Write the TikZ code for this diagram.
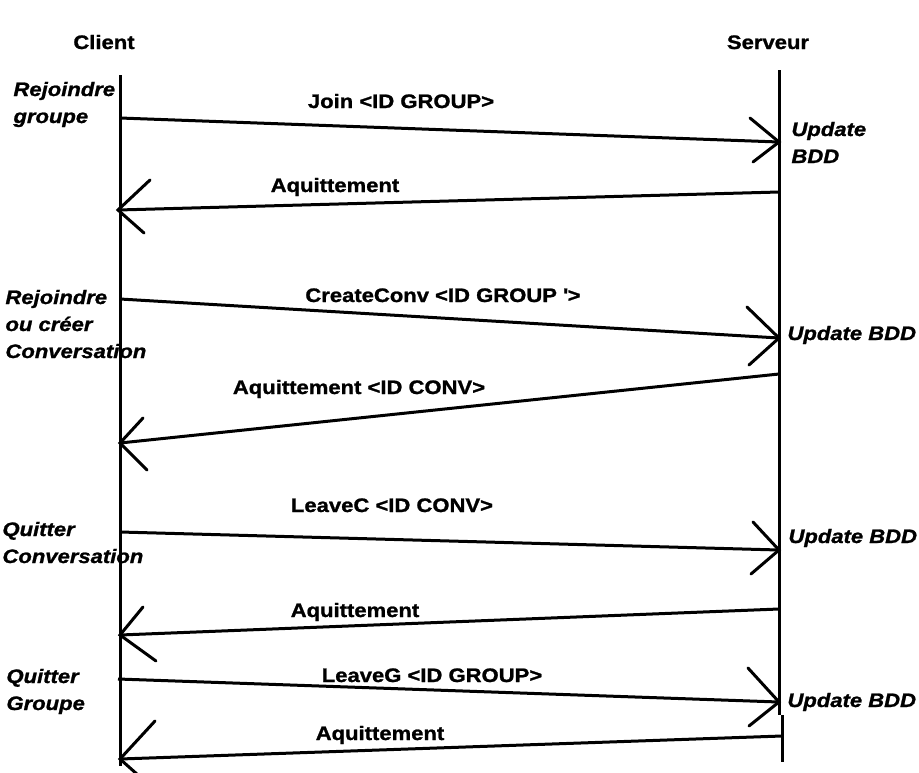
\documentclass[tikz,border=0pt]{standalone}
\usepackage{fontspec}
\setmainfont{Liberation Sans}[FakeStretch=1.13,FakeBold=1.2]
\begin{document}
\begin{tikzpicture}[x=1pt,y=-1pt,line width=3pt,
  msg/.style={font=\bfseries\fontsize{19.5}{23}\selectfont, anchor=base, inner sep=0pt},
  act/.style={font=\bfseries\itshape\fontsize{19.5}{27}\selectfont, anchor=base west, align=left, inner sep=0pt},
  lifeline/.style={line width=3pt},
  wire/.style={line width=3pt},
  barb/.style={line width=3pt, line cap=round}]
\useasboundingbox (0,0) rectangle (919,772);
% headers
\node[msg] (client) at (104,49) {Client};
\node[msg] (serveur) at (768,49) {Serveur};
% lifelines
\coordinate (ctop) at (120,75);
\coordinate (cbot) at (120,766);
\coordinate (stop) at (779,70);
\coordinate (smid) at (779,715);
\coordinate (smid2) at (782,715);
\coordinate (sbot) at (782,762);
\draw[lifeline] (ctop) -- (cbot);
\draw[lifeline] (stop) -- (smid);
\draw[lifeline] (smid2) -- (sbot);
% message 1
\coordinate (m1s) at (120,118); \coordinate (m1e) at (779,142);
\coordinate (b1a) at (750,118); \coordinate (b1b) at (753,162);
\draw[wire] (m1s) -- (m1e); \draw[barb] (b1a) -- (m1e) -- (b1b);
\node[msg] (l1) at (401,108) {Join <ID GROUP>};
% message 2
\coordinate (m2s) at (779,192); \coordinate (m2e) at (118,210);
\coordinate (b2a) at (150,180); \coordinate (b2b) at (144,233);
\draw[wire] (m2s) -- (m2e); \draw[barb] (b2a) -- (m2e) -- (b2b);
\node[msg] (l2) at (335,192) {Aquittement};
% message 3
\coordinate (m3s) at (120,299); \coordinate (m3e) at (779,338);
\coordinate (b3a) at (747,307); \coordinate (b3b) at (749,365);
\draw[wire] (m3s) -- (m3e); \draw[barb] (b3a) -- (m3e) -- (b3b);
\node[msg] (l3) at (443,302) {CreateConv <ID GROUP \textquotesingle>};
% message 4
\coordinate (m4s) at (779,374); \coordinate (m4e) at (120,443);
\coordinate (b4a) at (143,418); \coordinate (b4b) at (147,470);
\draw[wire] (m4s) -- (m4e); \draw[barb] (b4a) -- (m4e) -- (b4b);
\node[msg] (l4) at (359,394) {Aquittement <ID CONV>};
% message 5
\coordinate (m5s) at (120,532); \coordinate (m5e) at (779,550);
\coordinate (b5a) at (753,522); \coordinate (b5b) at (751,574);
\draw[wire] (m5s) -- (m5e); \draw[barb] (b5a) -- (m5e) -- (b5b);
\node[msg] (l5) at (392,512) {LeaveC <ID CONV>};
% message 6
\coordinate (m6s) at (779,609); \coordinate (m6e) at (120,635);
\coordinate (b6a) at (143,607); \coordinate (b6b) at (156,661);
\draw[wire] (m6s) -- (m6e); \draw[barb] (b6a) -- (m6e) -- (b6b);
\node[msg] (l6) at (355,617) {Aquittement};
% message 7
\coordinate (m7s) at (118,679); \coordinate (m7e) at (779,702);
\coordinate (b7a) at (748,668); \coordinate (b7b) at (749,726);
\draw[wire] (m7s) -- (m7e); \draw[barb] (b7a) -- (m7e) -- (b7b);
\node[msg] (l7) at (432,682) {LeaveG <ID GROUP>};
% message 8
\coordinate (m8s) at (782,736); \coordinate (m8e) at (120,759);
\coordinate (b8a) at (155,721); \coordinate (b8b) at (138,775);
\draw[wire] (m8s) -- (m8e); \draw[barb] (b8a) -- (m8e) -- (b8b);
\node[msg] (l8) at (380,740) {Aquittement};
% actions (anchor = baseline of last line)
\node[act] (a1) at (12,123) {Rejoindre\\groupe};
\node[act] (u1) at (790,163) {Update\\BDD};
\node[act] (a2) at (4,358) {Rejoindre\\ou créer\\Conversation};
\node[act] (u2) at (786,340) {Update BDD};
\node[act] (a3) at (1,563) {Quitter\\Conversation};
\node[act] (u3) at (787,543) {Update BDD};
\node[act] (a4) at (5,710) {Quitter\\Groupe};
\node[act] (u4) at (786,707) {Update BDD};
\end{tikzpicture}
\end{document}
